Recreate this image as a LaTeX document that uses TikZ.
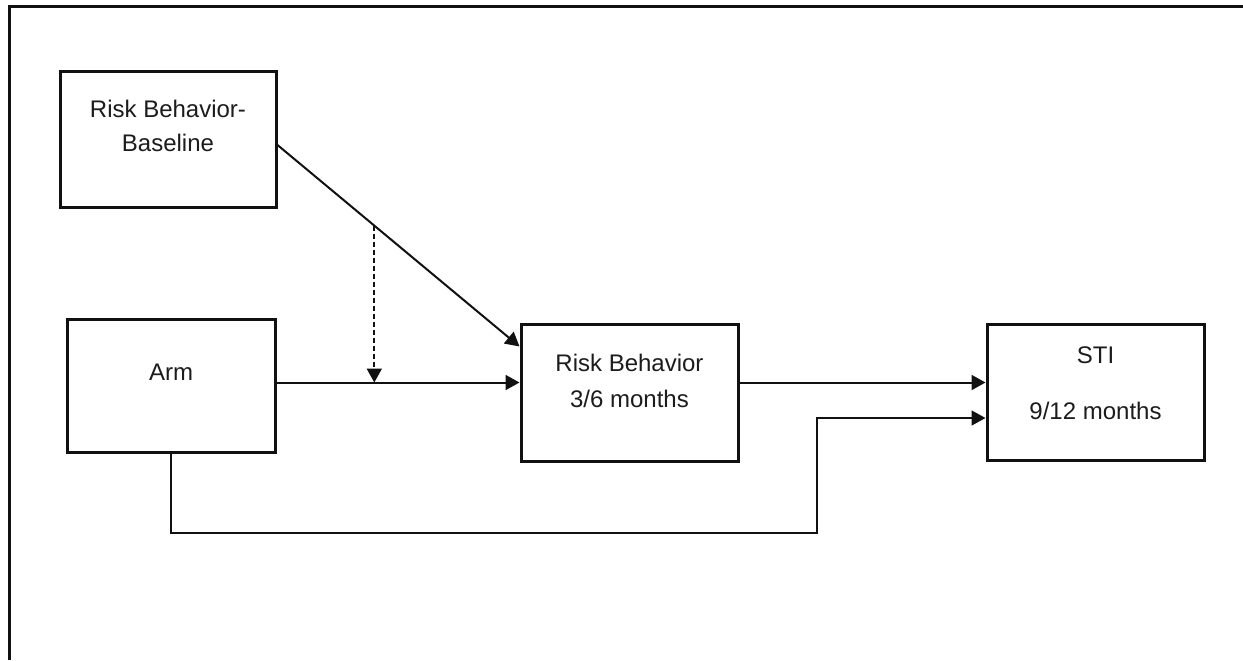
\documentclass[tikz,border=0pt]{standalone}
\usepackage{fontspec}
\setmainfont{Liberation Sans}
\usetikzlibrary{arrows.meta, positioning, calc}
\definecolor{negroTrazo}{HTML}{111111}
\definecolor{grisTexto}{HTML}{1C1C1C}
\colorlet{colLinea}{negroTrazo}
\colorlet{colTexto}{grisTexto}
\tikzset{
  cajaVariable/.style={
    draw=colLinea, line width=1.5pt, fill=white, inner sep=0pt
  },
  textoCaja/.style={font=\fontsize{12}{14.4}\selectfont, text=colTexto, align=center},
  flecha/.style={-{Triangle[length=7pt, width=7.5pt]}, line width=1pt, colLinea},
  flechaPunteada/.style={flecha, line width=1pt, dash pattern=on 2.5pt off 1.5pt},
  conector/.style={flecha, line width=0.8pt},
  marco/.style={line width=1.5pt, colLinea},
}

\begin{document}
\begin{tikzpicture}[x=0.5pt, y=-0.5pt]
    \useasboundingbox (0,0) rectangle (1243,660);
    \draw[marco] (9.5,660) -- (9.5,6) -- (1243,6);
    \node[cajaVariable, minimum width=108pt, minimum height=68pt,
      label={[textoCaja, yshift=6.5pt]center:{Risk Behavior-\\[2.6pt]Baseline}}] (base) at (168,139) {};
    \node[cajaVariable, minimum width=104pt, minimum height=66.5pt,
      label={[textoCaja, yshift=6.75pt]center:{Arm}}] (arm) at (171,385.5) {};
    \node[cajaVariable, minimum width=108.5pt, minimum height=68.5pt,
      label={[textoCaja, yshift=5.7pt]center:{Risk Behavior\\[3.6pt]3/6 months}}] (rb) at (629.5,392.5) {};
    \node[cajaVariable, minimum width=108.5pt, minimum height=68pt,
      label={[textoCaja, yshift=4.5pt]center:{STI\\[13.6pt]9/12 months}}] (sti) at (1095.5,392) {};
    \coordinate (armSalida) at ([yshift=1.5pt]arm.east);
    \coordinate (codo) at (817,533);
    \draw[flecha] ([yshift=-3pt]base.east) -- coordinate[pos=0.4] (moderador) ([yshift=-12pt]rb.north west);
    \draw[flecha] (armSalida) -- (armSalida -| rb.west);
    \draw[flechaPunteada] (moderador) -- (moderador |- armSalida);
    \draw[flecha] ([yshift=5pt]rb.east) -- ([yshift=5pt]rb.east -| sti.west);
    \draw[conector] (arm.south) |- (codo) |- ([yshift=-13pt]sti.west);
  \end{tikzpicture}
\end{document}
